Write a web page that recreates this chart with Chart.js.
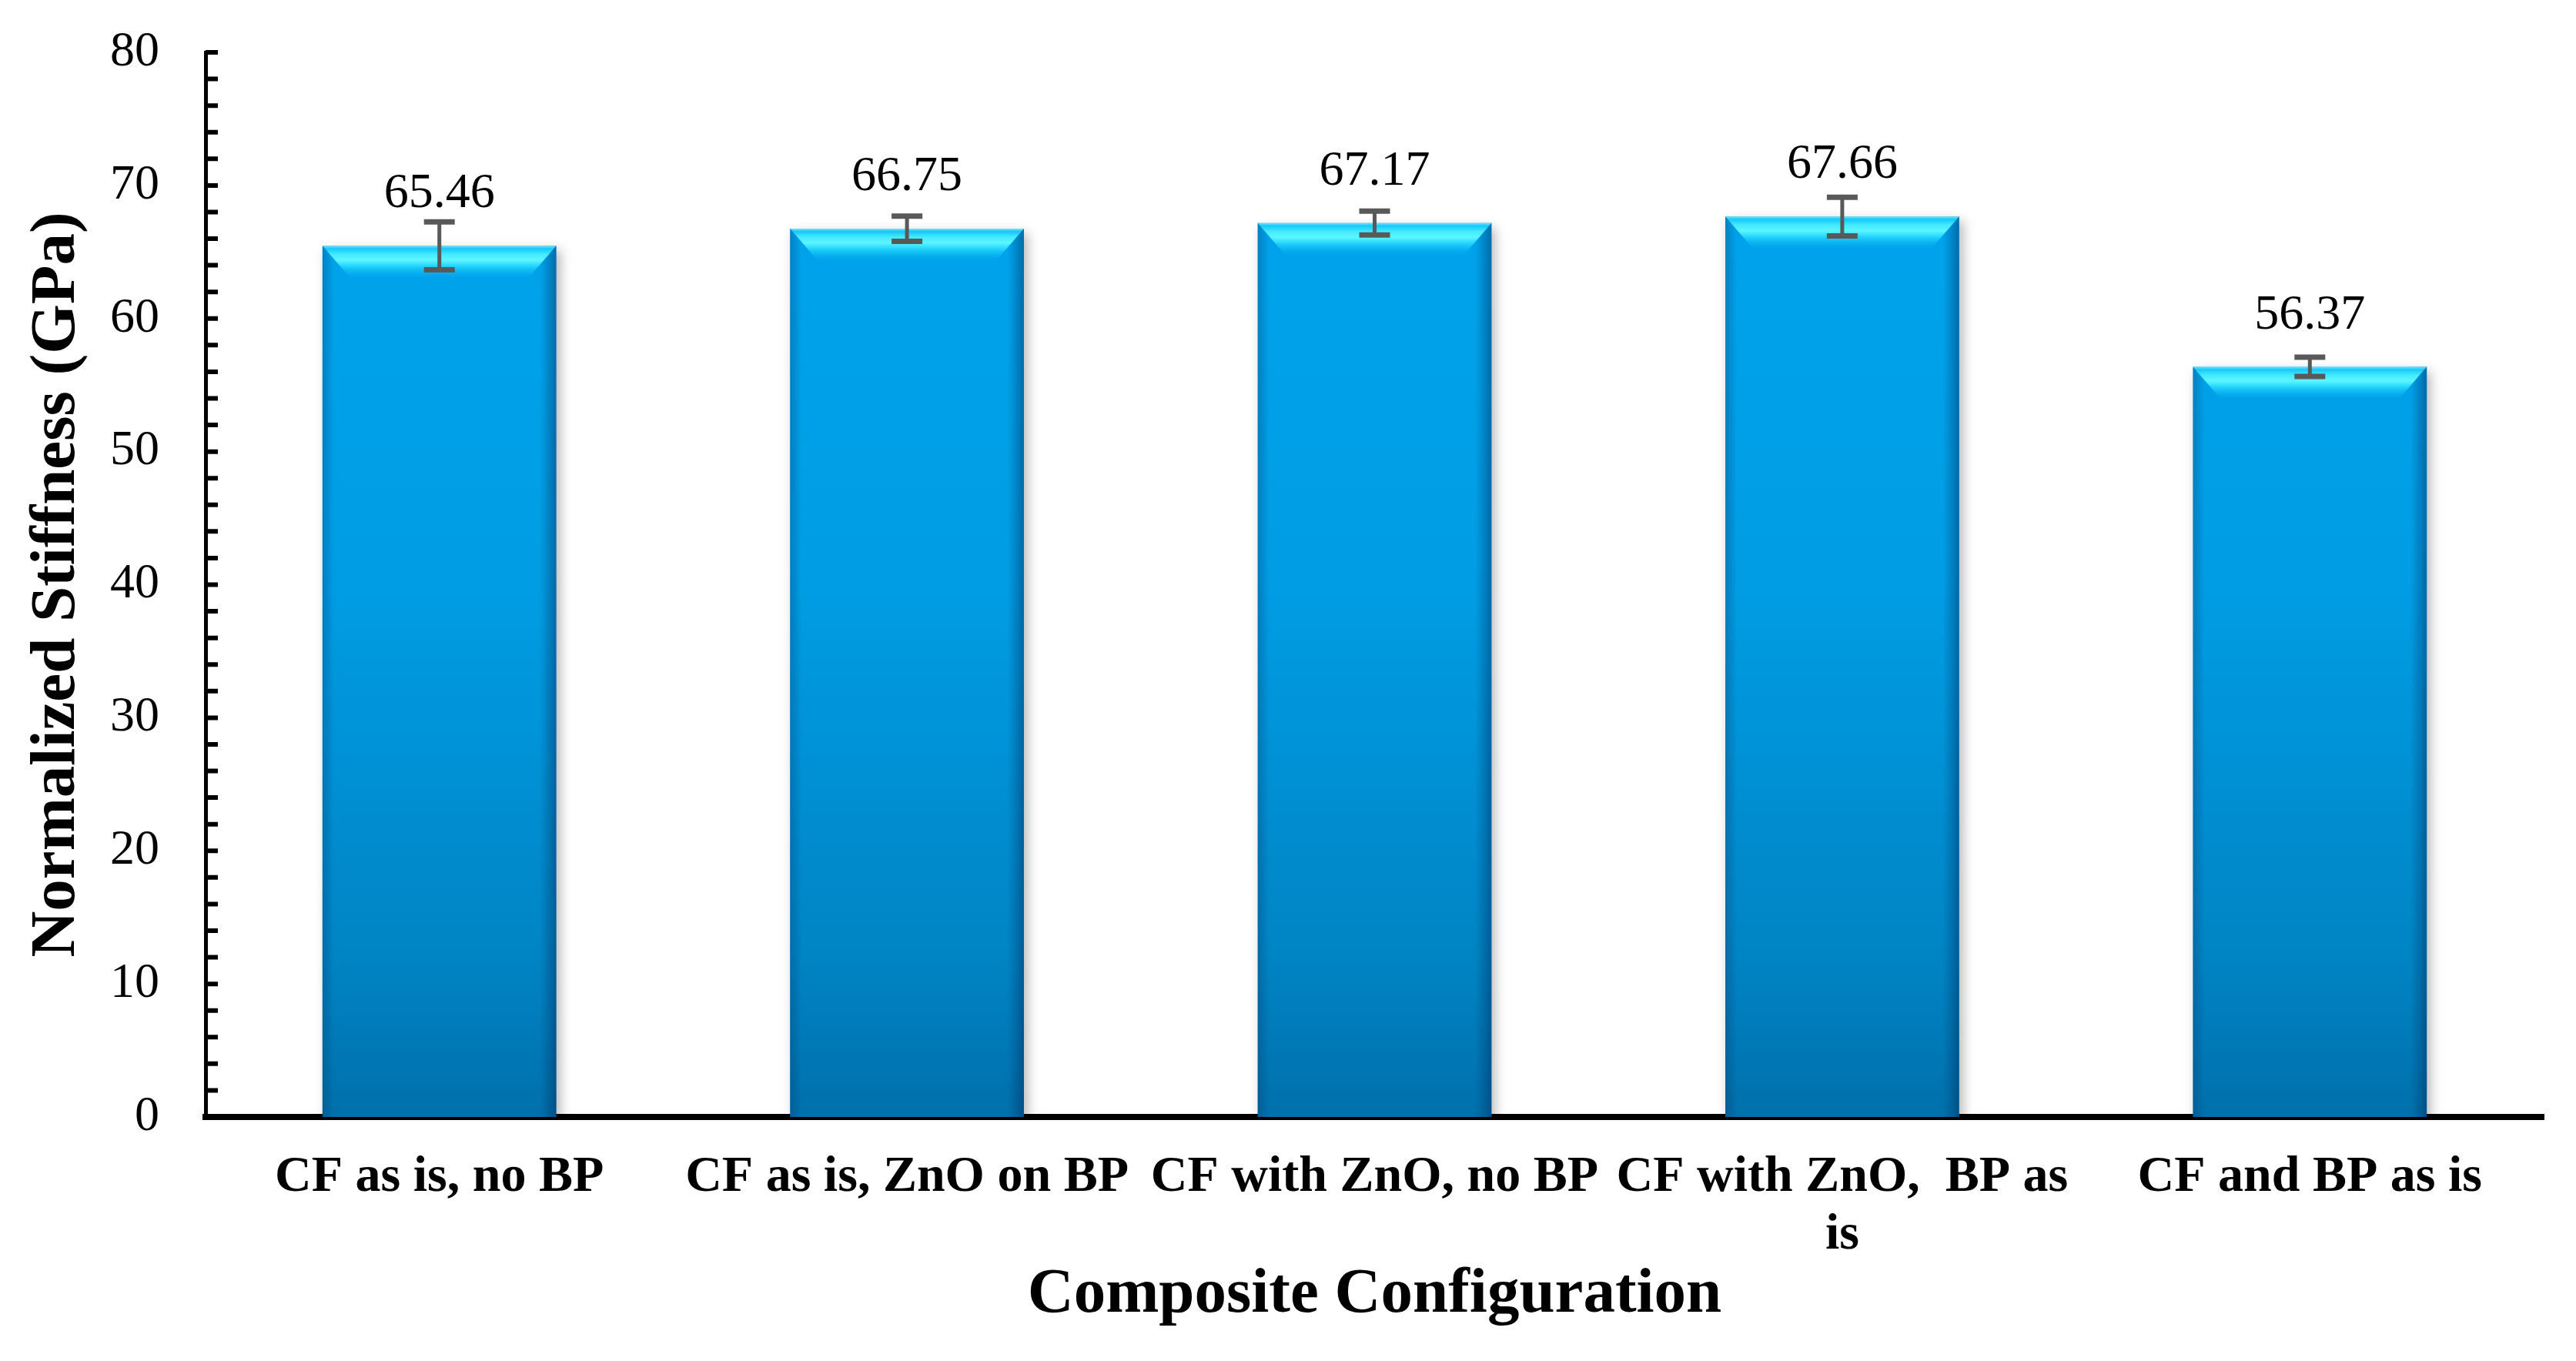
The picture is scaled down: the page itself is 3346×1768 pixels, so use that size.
<!DOCTYPE html>
<html>
<head>
<meta charset="utf-8">
<script src="https://cdn.jsdelivr.net/npm/chart.js@4.4.1/dist/chart.umd.min.js"></script>
<style>
    html, body { margin: 0; padding: 0; background: #fff; }
    #wrap { width: 3346px; height: 1768px; }
</style>
</head>
<body>
<div id="wrap"><canvas id="stiffnessChart" width="3346" height="1768"></canvas></div>
<script>
// Chart data
const categories = [
    'CF as is, no BP',
    'CF as is, ZnO on BP',
    'CF with ZnO, no BP',
    ['CF with ZnO,  BP as', 'is'],
    'CF and BP as is'
];
const stiffness = [65.46, 66.75, 67.17, 67.66, 56.37];
const stiffnessError = [1.8, 0.95, 0.9, 1.45, 0.72];
const yLabelTicks = [0, 10, 20, 30, 40, 50, 60, 70, 80];

const SERIF = "'Liberation Serif', 'Times New Roman', serif";

// Bars: shadow, side shading, top bevel, error bars, value labels
const barDecor = {
    id: 'barDecor',
    beforeDatasetDraw(chart) {
        const c = chart.ctx;
        c.save();
        c.shadowColor = 'rgba(0, 0, 0, 0.28)';
        c.shadowBlur = 14;
        c.shadowOffsetX = 5;
        c.shadowOffsetY = 6;
    },
    afterDatasetDraw(chart) {
        chart.ctx.restore();
    },
    afterDatasetsDraw(chart) {
        const c = chart.ctx;
        const yScale = chart.scales.y;
        const meta = chart.getDatasetMeta(0);

        meta.data.forEach((bar, i) => {
            const left = bar.x - bar.width / 2;
            const right = bar.x + bar.width / 2;
            const top = bar.y;
            const bottom = bar.base;

            c.save();
            // darker side edges
            const side = c.createLinearGradient(left, 0, right, 0);
            side.addColorStop(0, 'rgba(0, 50, 100, 0.30)');
            side.addColorStop(0.05, 'rgba(0, 50, 100, 0)');
            side.addColorStop(0.93, 'rgba(0, 50, 100, 0)');
            side.addColorStop(1, 'rgba(0, 40, 90, 0.45)');
            c.fillStyle = side;
            c.fillRect(left, top, bar.width, bottom - top);

            // light bevel at the top
            const bevelH = 44, inset = 38;
            const bev = c.createLinearGradient(0, top, 0, top + bevelH);
            bev.addColorStop(0, '#7fe2ff');
            bev.addColorStop(0.08, '#14c8fb');
            bev.addColorStop(0.25, '#45eaff');
            bev.addColorStop(0.42, '#5cf5ff');
            bev.addColorStop(0.6, '#22d4fc');
            bev.addColorStop(1, 'rgba(0, 166, 238, 0)');
            c.fillStyle = bev;
            c.beginPath();
            c.moveTo(left, top);
            c.lineTo(right, top);
            c.lineTo(right - inset, top + bevelH);
            c.lineTo(left + inset, top + bevelH);
            c.closePath();
            c.fill();

            // error bar
            const hi = yScale.getPixelForValue(stiffness[i] + stiffnessError[i]);
            const lo = yScale.getPixelForValue(stiffness[i] - stiffnessError[i]);
            const capW = 20;
            c.strokeStyle = '#595959';
            c.lineWidth = 5;
            c.beginPath();
            c.moveTo(bar.x, hi);
            c.lineTo(bar.x, lo);
            c.stroke();
            c.lineWidth = 7;
            c.beginPath();
            c.moveTo(bar.x - capW, hi);
            c.lineTo(bar.x + capW, hi);
            c.moveTo(bar.x - capW, lo);
            c.lineTo(bar.x + capW, lo);
            c.stroke();

            // value label
            c.fillStyle = '#000';
            c.font = '64px ' + SERIF;
            c.textAlign = 'center';
            c.textBaseline = 'alphabetic';
            c.fillText(stiffness[i].toFixed(2), bar.x, top - 50);
            c.restore();
        });
    },
    afterDraw(chart) {
        // inward tick marks on the y axis
        const c = chart.ctx;
        const yScale = chart.scales.y;
        const x0 = chart.chartArea.left;
        c.save();
        c.strokeStyle = '#000';
        c.lineWidth = 6;
        c.beginPath();
        yScale.ticks.forEach(t => {
            const py = yScale.getPixelForValue(t.value);
            c.moveTo(x0, py);
            c.lineTo(x0 + 16, py);
        });
        c.stroke();
        c.restore();
    }
};

function barFill(context) {
    const chart = context.chart;
    const area = chart.chartArea;
    if (!area) return '#00a6ee';
    const g = chart.ctx.createLinearGradient(0, area.top, 0, area.bottom);
    g.addColorStop(0, '#00a6ef');
    g.addColorStop(0.5, '#009de4');
    g.addColorStop(0.85, '#0084c4');
    g.addColorStop(1, '#0070ab');
    return g;
}

const ctx = document.getElementById('stiffnessChart').getContext('2d');
const stiffnessChart = new Chart(ctx, {
    type: 'bar',
    data: {
        labels: categories,
        datasets: [{
            label: 'Normalized Stiffness',
            data: stiffness,
            backgroundColor: barFill,
            borderWidth: 0,
            barPercentage: 0.5,
            categoryPercentage: 1.0
        }]
    },
    plugins: [barDecor],
    options: {
        responsive: false,
        devicePixelRatio: 1,
        animation: false,
        layout: {
            padding: { top: 68, right: 42, bottom: 0, left: 0 }
        },
        plugins: {
            legend: { display: false },
            tooltip: { enabled: false }
        },
        scales: {
            x: {
                grid: { display: false, drawTicks: false },
                border: { display: true, color: '#000', width: 8 },
                afterFit: function(scale) { scale.height = 317; },
                ticks: {
                    color: '#000',
                    padding: 41,
                    maxRotation: 0,
                    autoSkip: false,
                    font: { family: SERIF, size: 66, weight: 'bold', lineHeight: 1.14 }
                },
                title: {
                    display: true,
                    text: 'Composite Configuration',
                    color: '#000',
                    padding: { top: 44, bottom: 44 },
                    font: { family: SERIF, size: 83, weight: 'bold', lineHeight: 1.0 }
                }
            },
            y: {
                min: 0,
                max: 80,
                grid: { display: false, drawTicks: false },
                border: { display: true, color: '#000', width: 5 },
                afterFit: function(scale) {
                    scale.width = 267;
                    scale.paddingTop = 0;
                    scale.paddingBottom = 0;
                },
                ticks: {
                    stepSize: 2,
                    autoSkip: false,
                    color: '#000',
                    padding: 60,
                    font: { family: SERIF, size: 64 },
                    callback: function(value) {
                        return yLabelTicks.includes(value) ? value : '';
                    }
                },
                title: {
                    display: true,
                    text: 'Normalized Stiffness (GPa)',
                    color: '#000',
                    padding: { top: 25, bottom: 25 },
                    font: { family: SERIF, size: 83, weight: 'bold', lineHeight: 1.2 }
                }
            }
        }
    }
});
</script>
</body>
</html>
